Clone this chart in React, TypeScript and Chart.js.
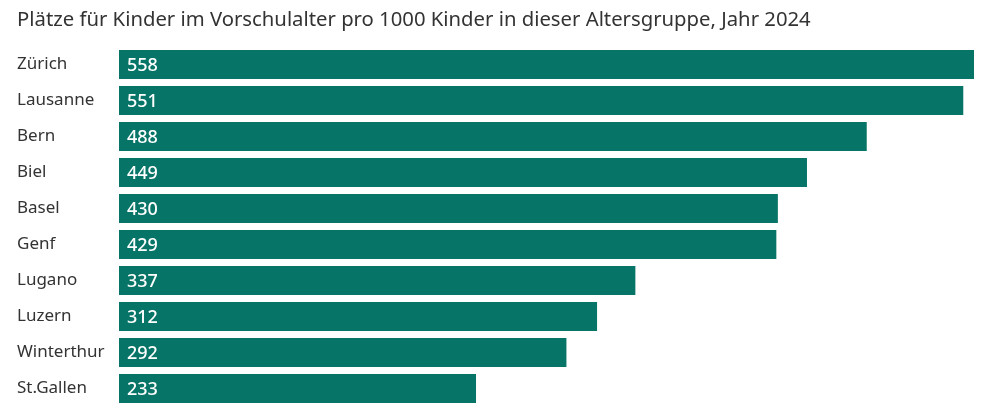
import React, { useEffect, useRef } from "react";
import { Chart, registerables } from "chart.js";

Chart.register(...registerables);

const title = "Plätze für Kinder im Vorschulalter pro 1000 Kinder in dieser Altersgruppe, Jahr 2024";
const cities = ["Zürich", "Lausanne", "Bern", "Biel", "Basel", "Genf", "Lugano", "Luzern", "Winterthur", "St.Gallen"];
const places = [558, 551, 488, 449, 430, 429, 337, 312, 292, 233];

const FONT = "'Noto Sans', sans-serif";

const valueLabels = {
  id: "valueLabels",
  afterDatasetsDraw(chart: any) {
    const ctx = chart.ctx;
    const meta = chart.getDatasetMeta(0);
    const data = chart.data.datasets[0].data;
    ctx.save();
    ctx.fillStyle = "#ffffff";
    ctx.font = `500 18px ${FONT}`;
    ctx.textAlign = "left";
    ctx.textBaseline = "middle";
    meta.data.forEach((bar: any, i: number) => {
      const left = Math.min(bar.base, bar.x);
      ctx.fillText(String(data[i]), left + 8, bar.y + 1);
    });
    ctx.restore();
  },
};

export default function App() {
  const ref = useRef<HTMLCanvasElement>(null);
  useEffect(() => {
    if (!ref.current) return;
    const chart = new Chart(ref.current, {
      type: "bar",
      data: {
        labels: cities,
        datasets: [
          {
            data: places,
            backgroundColor: "#077468",
            barPercentage: 0.806,
            categoryPercentage: 1,
          },
        ],
      },
      options: {
        indexAxis: "y",
        animation: false,
        responsive: true,
        maintainAspectRatio: false,
        layout: { padding: { left: 9, right: 14, top: 0, bottom: 5.5 } },
        plugins: {
          legend: { display: false },
          tooltip: { enabled: false },
          title: {
            display: true,
            text: title,
            align: "start",
            color: "#333333",
            font: { family: FONT, size: 20.3, weight: "normal", lineHeight: 1.2 },
            padding: { top: 0, bottom: 14.1 },
          },
        },
        scales: {
          x: {
            display: false,
            min: 0,
            max: 558,
            grid: { display: false },
          },
          y: {
            grid: { display: false },
            border: { display: false },
            afterFit: (scale: any) => {
              scale.width = 102;
              scale.paddingTop = 0;
              scale.paddingBottom = 0;
            },
            ticks: {
              crossAlign: "far",
              color: "#333333",
              font: { family: FONT, size: 17 },
              padding: 0,
            },
          },
        },
      },
      plugins: [valueLabels],
    });
    return () => chart.destroy();
  }, []);
  return (
    <div style={{ position: "relative", height: "404px" }}>
      <canvas ref={ref} />
    </div>
  );
}
